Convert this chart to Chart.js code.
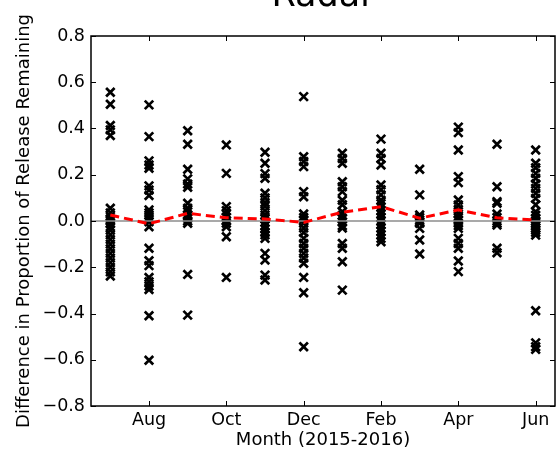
<!DOCTYPE html>
<html>
<head>
<meta charset="utf-8">
<script src="https://cdn.jsdelivr.net/npm/chart.js@4/dist/chart.umd.min.js"></script>
<style>
  html, body { margin: 0; padding: 0; background: #fff; }
  canvas { display: block; }
</style>
</head>
<body>
<canvas id="chart" width="557" height="453"></canvas>
<script>
// Meses (jul 2015 - jun 2016)
const monthLabels = ['Jul', 'Aug', 'Sep', 'Oct', 'Nov', 'Dec', 'Jan', 'Feb', 'Mar', 'Apr', 'May', 'Jun'];
const xTickMonths = [1, 3, 5, 7, 9, 11];
const yTicks = [-0.8, -0.6, -0.4, -0.2, 0.0, 0.2, 0.4, 0.6, 0.8];

// Valores por mes
const jul = [0.557, 0.505, 0.413, 0.394, 0.370, 0.055, 0.035, 0.02, 0.01, 0.0, -0.01, -0.025, -0.04, -0.06, -0.08, -0.1, -0.12, -0.14, -0.16, -0.18, -0.2, -0.22, -0.238];
const aug = [0.502, 0.365, 0.26, 0.242, 0.228, 0.152, 0.134, 0.11, 0.048, 0.035, 0.026, 0.012, -0.003, -0.025, -0.118, -0.172, -0.193, -0.244, -0.263, -0.281, -0.296, -0.41, -0.602];
const sep = [0.39, 0.332, 0.224, 0.182, 0.16, 0.146, 0.077, 0.055, 0.04, 0.025, 0.012, 0.0, -0.01, -0.231, -0.407];
const oct = [0.329, 0.206, 0.062, 0.045, 0.03, 0.015, 0.0, -0.01, -0.025, -0.068, -0.244];
const nov = [0.297, 0.25, 0.205, 0.185, 0.12, 0.1, 0.08, 0.065, 0.045, 0.026, 0.01, -0.005, -0.02, -0.035, -0.05, -0.06, -0.075, -0.14, -0.169, -0.234, -0.255];
const dec = [0.538, 0.278, 0.257, 0.235, 0.127, 0.105, 0.03, 0.015, 0.005, -0.01, -0.03, -0.05, -0.075, -0.097, -0.118, -0.14, -0.16, -0.183, -0.244, -0.31, -0.544];
const jan = [0.293, 0.27, 0.25, 0.17, 0.148, 0.127, 0.09, 0.07, 0.04, 0.025, 0.01, -0.005, -0.02, -0.03, -0.097, -0.118, -0.176, -0.299];
const feb = [0.354, 0.293, 0.27, 0.242, 0.156, 0.135, 0.113, 0.09, 0.075, 0.06, 0.045, 0.03, 0.015, 0.0, -0.015, -0.03, -0.045, -0.06, -0.075, -0.09];
const mar = [0.224, 0.113, 0.026, 0.015, 0.005, -0.005, -0.01, -0.032, -0.082, -0.143];
const apr = [0.406, 0.382, 0.307, 0.192, 0.166, 0.091, 0.069, 0.05, 0.03, 0.015, 0.005, -0.01, -0.02, -0.032, -0.075, -0.097, -0.118, -0.173, -0.219];
const may = [0.332, 0.148, 0.084, 0.077, 0.03, 0.015, 0.0, -0.01, -0.017, -0.118, -0.137];
const jun = [0.307, 0.25, 0.23, 0.206, 0.185, 0.16, 0.141, 0.12, 0.098, 0.07, 0.04, 0.025, 0.01, 0.0, -0.01, -0.02, -0.03, -0.04, -0.05, -0.061, -0.388, -0.527, -0.544, -0.555];

// Media mensual (linea roja discontinua)
const monthlyMeans = [0.026, -0.012, 0.033, 0.014, 0.009, -0.006, 0.038, 0.062, 0.012, 0.048, 0.014, 0.004];

const byMonth = [jul, aug, sep, oct, nov, dec, jan, feb, mar, apr, may, jun];
const scatterPoints = [];
byMonth.forEach((vals, i) => vals.forEach(v => scatterPoints.push({ x: i, y: v })));
const meanPoints = monthlyMeans.map((m, i) => ({ x: i, y: m }));

const FONT = 'DejaVu Sans';

// Titulo cortado arriba + marco con ticks hacia dentro (estilo matplotlib)
const frameAndTitle = {
    id: 'frameAndTitle',
    afterDraw(chart) {
        const { ctx, chartArea: a, scales } = chart;
        ctx.save();
        ctx.fillStyle = '#000';
        ctx.font = '35px "' + FONT + '"';
        ctx.textAlign = 'center';
        ctx.textBaseline = 'alphabetic';
        ctx.fillText('Radar', (a.left + a.right) / 2, 6);

        ctx.strokeStyle = '#000';
        ctx.lineWidth = 1;
        const len = 5;
        ctx.beginPath();
        xTickMonths.forEach(m => {
            const px = Math.round(scales.x.getPixelForValue(m)) + 0.5;
            ctx.moveTo(px, a.bottom); ctx.lineTo(px, a.bottom - len);
            ctx.moveTo(px, a.top); ctx.lineTo(px, a.top + len);
        });
        yTicks.forEach(v => {
            const py = Math.round(scales.y.getPixelForValue(v)) + 0.5;
            ctx.moveTo(a.left, py); ctx.lineTo(a.left + len, py);
            ctx.moveTo(a.right, py); ctx.lineTo(a.right - len, py);
        });
        ctx.stroke();

        ctx.lineWidth = 1.5;
        ctx.strokeRect(a.left, a.top, a.right - a.left, a.bottom - a.top);
        ctx.restore();
    }
};

new Chart(document.getElementById('chart'), {
    type: 'scatter',
    data: {
        datasets: [
            {
                label: 'mean',
                type: 'line',
                data: meanPoints,
                borderColor: '#ff0000',
                borderWidth: 3,
                borderDash: [9, 5],
                pointRadius: 0,
                fill: false,
                tension: 0,
                order: 0
            },
            {
                label: 'zero',
                type: 'line',
                data: [{ x: -0.5, y: 0 }, { x: 11.5, y: 0 }],
                borderColor: '#8c8c8c',
                borderWidth: 1.5,
                pointRadius: 0,
                fill: false,
                order: 1
            },
            {
                label: 'values',
                data: scatterPoints,
                pointStyle: 'crossRot',
                pointRadius: 6,
                borderColor: '#000',
                backgroundColor: '#000',
                pointBorderWidth: 2.7,
                order: 2
            }
        ]
    },
    options: {
        responsive: false,
        animation: false,
        devicePixelRatio: 1,
        layout: { autoPadding: false, padding: { top: 36, right: 2, left: 0, bottom: 0 } },
        plugins: {
            legend: { display: false },
            tooltip: { enabled: false },
            title: { display: false }
        },
        scales: {
            x: {
                type: 'linear',
                min: -0.5,
                max: 11.5,
                grid: { display: false, drawTicks: false },
                border: { display: false },
                afterBuildTicks: scale => { scale.ticks = xTickMonths.map(v => ({ value: v })); },
                afterFit: scale => {
                    scale.height = 47;
                    scale.paddingLeft = 0;
                    scale.paddingRight = 0;
                },
                ticks: {
                    padding: 4,
                    color: '#000',
                    font: { family: FONT, size: 17.5, lineHeight: 1.2 },
                    maxRotation: 0,
                    autoSkip: false,
                    callback: v => monthLabels[v]
                },
                title: {
                    display: true,
                    text: 'Month (2015-2016)',
                    color: '#000',
                    font: { family: FONT, size: 18, lineHeight: 1.2 },
                    padding: { top: 0, bottom: 1.5 }
                }
            },
            y: {
                min: -0.8,
                max: 0.8,
                grid: { display: false, drawTicks: false },
                border: { display: false },
                afterBuildTicks: scale => { scale.ticks = yTicks.map(v => ({ value: v })); },
                afterFit: scale => {
                    scale.width = 91;
                    scale.paddingTop = 0;
                    scale.paddingBottom = 0;
                },
                ticks: {
                    padding: 6,
                    color: '#000',
                    font: { family: FONT, size: 17.5 },
                    callback: v => (Math.abs(v) < 1e-9 ? '0.0' : v.toFixed(1).replace('-', '\u2212'))
                },
                title: {
                    display: true,
                    text: 'Difference in Proportion of Release Remaining',
                    color: '#000',
                    font: { family: FONT, size: 18, lineHeight: 1.2 },
                    padding: { top: 14, bottom: 0 }
                }
            }
        }
    },
    plugins: [frameAndTitle]
});
</script>
</body>
</html>
